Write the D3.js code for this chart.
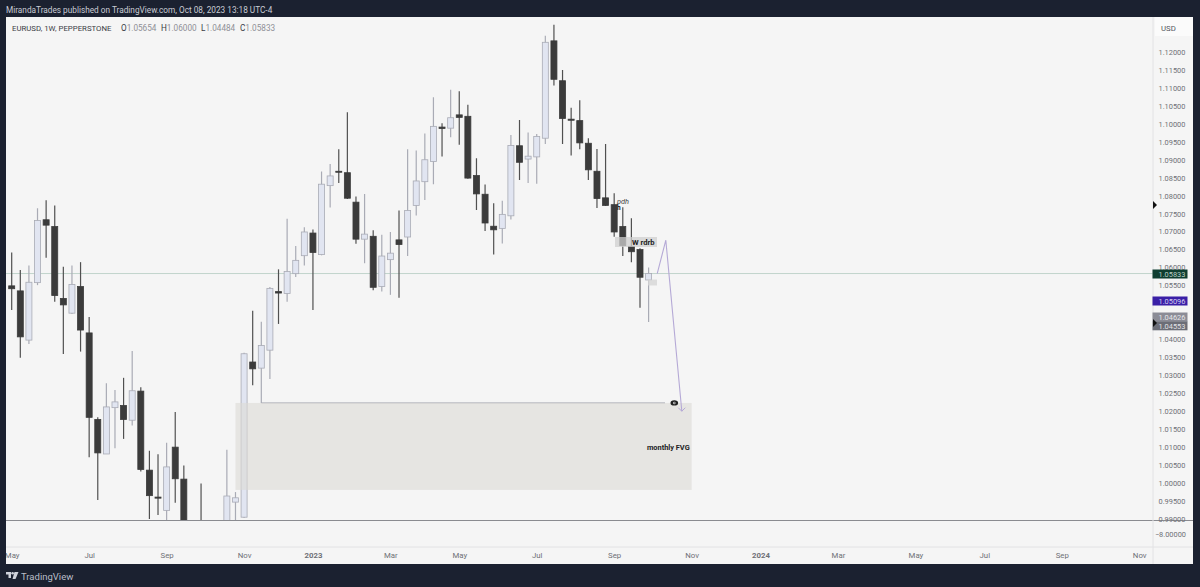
<!DOCTYPE html>
<html>
<head>
<meta charset="utf-8">
<script src="https://cdn.jsdelivr.net/npm/d3@7"></script>
<style>
    html, body { margin: 0; padding: 0; background: #1b2130; overflow: hidden; }
    text { font-family: Roboto, "Noto Sans", sans-serif; }
</style>
</head>
<body>
<div id="visualization"></div>
<script>
// Data
const weeks = [
    "2022-05-02", "2022-05-09", "2022-05-16", "2022-05-23", "2022-05-30", "2022-06-06", "2022-06-13", "2022-06-20", "2022-06-27",
    "2022-07-04", "2022-07-11", "2022-07-18", "2022-07-25", "2022-08-01", "2022-08-08", "2022-08-15", "2022-08-22", "2022-08-29",
    "2022-09-05", "2022-09-12", "2022-09-19", "2022-09-26", "2022-10-03", "2022-10-10", "2022-10-17", "2022-10-24", "2022-10-31",
    "2022-11-07", "2022-11-14", "2022-11-21", "2022-11-28", "2022-12-05", "2022-12-12", "2022-12-19", "2022-12-26",
    "2023-01-02", "2023-01-09", "2023-01-16", "2023-01-23", "2023-01-30", "2023-02-06", "2023-02-13", "2023-02-20", "2023-02-27",
    "2023-03-06", "2023-03-13", "2023-03-20", "2023-03-27", "2023-04-03", "2023-04-10", "2023-04-17", "2023-04-24",
    "2023-05-01", "2023-05-08", "2023-05-15", "2023-05-22", "2023-05-29", "2023-06-05", "2023-06-12", "2023-06-19", "2023-06-26",
    "2023-07-03", "2023-07-10", "2023-07-17", "2023-07-24", "2023-07-31", "2023-08-07", "2023-08-14", "2023-08-21", "2023-08-28",
    "2023-09-04", "2023-09-11", "2023-09-18", "2023-09-25", "2023-10-02"
];
const opens = [
    1.0549, 1.0535, 1.0398, 1.0558, 1.0733, 1.0714, 1.0514, 1.0473, 1.0547,
    1.0418, 1.0177, 1.0081, 1.0210, 1.0216, 1.0175, 1.0256, 1.0036, 0.9961,
    0.9924, 1.0100, 1.0011, 0.9690, 0.9800, 0.9735, 0.9725, 0.9860, 0.9947,
    0.9905, 1.0337, 1.0320, 1.0370, 1.0533, 1.0528, 1.0583, 1.0633,
    1.0696, 1.0636, 1.0828, 1.0868, 1.0864, 1.0782, 1.0679, 1.0687, 1.0547,
    1.0622, 1.0677, 1.0685, 1.0773, 1.0839, 1.0895, 1.0991, 1.0988,
    1.1025, 1.1021, 1.0856, 1.0804, 1.0715, 1.0709, 1.0744, 1.0939, 1.0902,
    1.0908, 1.0960, 1.1231, 1.1120, 1.1013, 1.1009, 1.0946, 1.0868, 1.0794,
    1.0775, 1.0714, 1.0659, 1.0650, 1.05654
];
const closes = [
    1.0541, 1.0407, 1.0559, 1.0731, 1.0718, 1.0522, 1.0496, 1.0553, 1.0426,
    1.0183, 1.0084, 1.0212, 1.0226, 1.0177, 1.0257, 1.0038, 0.9965, 0.9958,
    1.0045, 1.0012, 0.9690, 0.9800, 0.9740, 0.9720, 0.9860, 0.9964, 0.9959,
    1.0360, 1.0318, 1.0383, 1.0542, 1.0529, 1.0589, 1.0620, 1.0699,
    1.0642, 1.0832, 1.0855, 1.0866, 1.0793, 1.0679, 1.0693, 1.0545, 1.0632,
    1.0640, 1.0664, 1.0759, 1.0841, 1.0900, 1.0993, 1.0987, 1.1017,
    1.1018, 1.0849, 1.0805, 1.0724, 1.0705, 1.0748, 1.0940, 1.0893, 1.0910,
    1.0965, 1.1227, 1.1124, 1.1015, 1.1010, 1.0947, 1.0872, 1.0792, 1.0773,
    1.0699, 1.0661, 1.0644, 1.0573, 1.05833
];
const highs = [
    1.0642, 1.0593, 1.0606, 1.0765, 1.0787, 1.0773, 1.0602, 1.0606, 1.0615,
    1.0462, 1.0183, 1.0278, 1.0259, 1.0293, 1.0368, 1.0267, 1.0090, 1.0080,
    1.0112, 1.0198, 1.0049, 0.9850, 0.9999, 0.9810, 0.9875, 1.0093, 0.9975,
    1.0363, 1.0480, 1.0449, 1.0546, 1.0595, 1.0736, 1.0660, 1.0712,
    1.0706, 1.0867, 1.0888, 1.0929, 1.1032, 1.0798, 1.0805, 1.0704, 1.0691,
    1.0699, 1.0759, 1.0929, 1.0926, 1.0973, 1.1074, 1.1002, 1.1095,
    1.1091, 1.1053, 1.0904, 1.0831, 1.0779, 1.0786, 1.0969, 1.1011, 1.0976,
    1.0972, 1.1245, 1.1276, 1.1150, 1.1045, 1.1066, 1.0960, 1.0930, 1.0944,
    1.0807, 1.0768, 1.0737, 1.0654, 1.06000
];
const lows = [
    1.0482, 1.0349, 1.0387, 1.0551, 1.0627, 1.0505, 1.0359, 1.0471, 1.0366,
    1.0072, 0.9953, 1.0081, 1.0097, 1.0123, 1.0160, 1.0032, 0.9900, 0.9911,
    0.9880, 0.9945, 0.9665, 0.9535, 0.9725, 0.9630, 0.9705, 0.9840, 0.9730,
    0.9903, 1.0272, 1.0223, 1.0290, 1.0443, 1.0505, 1.0574, 1.0606,
    1.0482, 1.0634, 1.0767, 1.0835, 1.0791, 1.0666, 1.0612, 1.0537, 1.0533,
    1.0524, 1.0516, 1.0632, 1.0745, 1.0788, 1.0832, 1.0909, 1.0963,
    1.0942, 1.0847, 1.0760, 1.0702, 1.0636, 1.0667, 1.0734, 1.0844, 1.0835,
    1.0833, 1.0944, 1.1107, 1.0944, 1.0912, 1.0929, 1.0844, 1.0766, 1.0771,
    1.0686, 1.0632, 1.0615, 1.0488, 1.04484
];

// 1.05000 and 1.04500 sit behind the price tags in the picture
const priceTicks = [
    1.12, 1.115, 1.11, 1.105, 1.10, 1.095, 1.09, 1.085, 1.08, 1.075, 1.07, 1.065, 1.06, 1.055,
    1.04, 1.035, 1.03, 1.025, 1.02, 1.015, 1.01, 1.005, 1.00, 0.995, 0.99
];
const timeTicks = [
    ["2022-05-02", "May"], ["2022-07-04", "Jul"], ["2022-09-05", "Sep"], ["2022-11-07", "Nov"],
    ["2023-01-02", "2023"], ["2023-03-06", "Mar"], ["2023-05-01", "May"], ["2023-07-03", "Jul"],
    ["2023-09-04", "Sep"], ["2023-11-06", "Nov"], ["2024-01-01", "2024"], ["2024-03-04", "Mar"],
    ["2024-05-06", "May"], ["2024-07-01", "Jul"], ["2024-09-02", "Sep"], ["2024-11-04", "Nov"]
];
const legendParts = [["O", "1.05654", 121], ["H", "1.06000", 161], ["L", "1.04484", 201], ["C", "1.05833", 240]];
const priceTags = [
    { value: "1.05833", y: 274, fill: "#0f3d30", color: "#b9cfc7" },
    { value: "1.05096", y: 301, fill: "#3a1fa6", color: "#d5cff2" },
    { value: "1.04626", y: 317, fill: "#8b8c96", color: "#e6e6ea" },
    { value: "1.04553", y: 325.8, fill: "#6c6e77", color: "#e2e2e6" }
];
const lastClose = 1.05833;
const fvgTop = 1.0223, fvgBottom = 0.9981;
const plannedPath = [["2023-10-09", 1.0583], ["2023-10-16", 1.0676], ["2023-10-29", 1.0200]];

// Layout
const width = 1200, height = 587;
const frame = { left: 6, right: 1193, top: 17, bottom: 564 };
const paneBottom = 520.5, plotBottom = 547, axisLeft = 1153;

const parseDate = d3.utcParse("%Y-%m-%d");

const svg = d3.select("#visualization").append("svg")
    .attr("width", width)
    .attr("height", height)
    .style("display", "block");

svg.append("rect").attr("width", width).attr("height", height).attr("fill", "#1b2130");
svg.append("rect")
    .attr("x", frame.left).attr("y", frame.top)
    .attr("width", frame.right - frame.left).attr("height", frame.bottom - frame.top)
    .attr("fill", "#f5f5f5");

const defs = svg.append("defs");
defs.append("clipPath").attr("id", "pane").append("rect")
    .attr("x", frame.left).attr("y", frame.top)
    .attr("width", axisLeft - frame.left).attr("height", paneBottom - frame.top);
defs.append("clipPath").attr("id", "frame").append("rect")
    .attr("x", frame.left).attr("y", frame.top)
    .attr("width", frame.right - frame.left).attr("height", frame.bottom - frame.top);

// Scales
const x = d3.scaleUtc()
    .domain([parseDate("2022-05-02"), parseDate("2024-11-04")])
    .range([11.7, 1139.2]);
const y = d3.scaleLinear()
    .domain([0.99, 1.12])
    .range([519, 52]);

const candles = weeks.map((w, i) => ({
    date: parseDate(w), open: opens[i], close: closes[i], high: highs[i], low: lows[i]
}));

const pane = svg.append("g").attr("clip-path", "url(#pane)");

// Current price line
pane.append("line")
    .attr("x1", frame.left).attr("x2", axisLeft)
    .attr("y1", y(lastClose)).attr("y2", y(lastClose))
    .attr("stroke", "#c2d4cc").attr("stroke-width", 1);

// Low of the week of Nov 21 carried to the right
pane.append("line")
    .attr("x1", x(parseDate("2022-11-21"))).attr("x2", 665)
    .attr("y1", y(fvgTop)).attr("y2", y(fvgTop))
    .attr("stroke", "#a4a6b0").attr("stroke-width", 1);

// Candles
const isUp = d => d.close >= d.open;
const candle = pane.selectAll(".candle").data(candles).enter().append("g").attr("class", "candle");

candle.append("line")
    .attr("x1", d => x(d.date)).attr("x2", d => x(d.date))
    .attr("y1", d => y(d.high)).attr("y2", d => y(d.low))
    .attr("stroke", d => isUp(d) ? "#a9abb5" : "#505050")
    .attr("stroke-width", 1.2);

candle.append("rect")
    .attr("x", d => x(d.date) - 3)
    .attr("width", 6)
    .attr("y", d => y(Math.max(d.open, d.close)))
    .attr("height", d => Math.max(Math.abs(y(d.open) - y(d.close)), 1))
    .attr("fill", d => isUp(d) ? "#e1e5f1" : "#3b3b3b")
    .attr("stroke", d => isUp(d) ? "#a9abb5" : "#3b3b3b")
    .attr("stroke-width", 0.8);

// monthly FVG box
pane.append("rect")
    .attr("x", x(parseDate("2022-10-31")))
    .attr("width", x(parseDate("2023-11-06")) - x(parseDate("2022-10-31")))
    .attr("y", y(fvgTop))
    .attr("height", y(fvgBottom) - y(fvgTop))
    .attr("fill", "#dcdbd5")
    .attr("fill-opacity", 0.6);
pane.append("text")
    .attr("x", 668.3).attr("y", 449.5)
    .attr("text-anchor", "middle")
    .attr("font-size", 7.4).attr("font-weight", 700)
    .attr("fill", "#222").text("monthly FVG");

// W rdrb box and the small one by the last candle
pane.append("rect").attr("x", 615).attr("y", 237).attr("width", 42).attr("height", 10)
    .attr("fill", "#cfcfcf").attr("fill-opacity", 0.75);
pane.append("rect").attr("x", 648).attr("y", 279.5).attr("width", 9).attr("height", 6)
    .attr("fill", "#d6d6d6").attr("fill-opacity", 0.8);
pane.append("text").attr("x", 632).attr("y", 244.5)
    .attr("font-size", 7.6).attr("font-weight", 700).attr("fill", "#222").text("W rdrb");
pane.append("text").attr("x", 617).attr("y", 204)
    .attr("font-size", 7.4).attr("font-style", "italic").attr("fill", "#444").text("pdh");
pane.append("text").attr("x", 617).attr("y", 210)
    .attr("font-size", 6.5).attr("font-weight", 700).attr("fill", "#222").text("h");

// Planned move and arrow head
const pathLine = d3.line().x(d => x(parseDate(d[0]))).y(d => y(d[1]));
pane.append("path")
    .attr("d", pathLine(plannedPath))
    .attr("fill", "none").attr("stroke", "#b5a9d6").attr("stroke-width", 1.1);
const tip = plannedPath[2];
pane.append("path")
    .attr("transform", `translate(${x(parseDate(tip[0]))},${y(tip[1])})`)
    .attr("d", "M-3.5,-3.5L0,0L3.5,-3.5")
    .attr("fill", "none").attr("stroke", "#b5a9d6").attr("stroke-width", 1);

// Eye icon on the line end
const eye = pane.append("g").attr("transform", `translate(674.3,${y(fvgTop)})`);
eye.append("ellipse").attr("rx", 3.8).attr("ry", 2.6).attr("fill", "#222");
eye.append("circle").attr("r", 1.2).attr("fill", "#e8e8e8");
eye.append("circle").attr("r", 0.6).attr("fill", "#222");

// Lower pane and plot borders
svg.append("line").attr("x1", frame.left).attr("x2", frame.right)
    .attr("y1", paneBottom).attr("y2", paneBottom)
    .attr("stroke", "#8a8b90").attr("stroke-width", 1);
svg.append("line").attr("x1", frame.left).attr("x2", frame.right)
    .attr("y1", plotBottom).attr("y2", plotBottom)
    .attr("stroke", "#e2e2e4").attr("stroke-width", 1);
svg.append("line").attr("x1", axisLeft).attr("x2", axisLeft)
    .attr("y1", frame.top).attr("y2", frame.bottom)
    .attr("stroke", "#e2e2e4").attr("stroke-width", 1);

// Axes
const yAxis = svg.append("g")
    .attr("transform", `translate(${axisLeft},0)`)
    .call(d3.axisRight(y).tickValues(priceTicks).tickSize(0).tickPadding(5.5).tickFormat(d3.format(".5f")));
yAxis.select(".domain").remove();
yAxis.selectAll("text").attr("font-size", 7.4).attr("fill", "#6e7076")
    .style("font-family", "Roboto, sans-serif");

const xAxis = svg.append("g")
    .attr("clip-path", "url(#frame)")
    .append("g")
    .attr("transform", `translate(0,${plotBottom})`)
    .call(d3.axisBottom(x)
        .tickValues(timeTicks.map(d => parseDate(d[0])))
        .tickSize(0).tickPadding(5)
        .tickFormat((d, i) => timeTicks[i][1]));
xAxis.select(".domain").remove();
xAxis.selectAll("text").attr("font-size", 7.8).attr("fill", "#6e7076")
    .style("font-family", "Roboto, sans-serif")
    .attr("font-weight", (d, i) => timeTicks[i][1].length === 4 ? 700 : 400);

svg.append("text")
    .attr("x", 1186).attr("y", 537)
    .attr("text-anchor", "end")
    .attr("font-size", 7.4).attr("fill", "#6e7076").text("\u22128.00000");

// USD box at the top of the price axis
svg.append("rect")
    .attr("x", 1155).attr("y", frame.top).attr("width", frame.right - 1155).attr("height", 19)
    .attr("fill", "#fbfbfb");
svg.append("text")
    .attr("x", 1161).attr("y", 30.5)
    .attr("font-size", 7.8).attr("fill", "#55575e").text("USD");

// Price tags on the axis
const tag = svg.selectAll(".tag").data(priceTags).enter().append("g").attr("class", "tag");
tag.append("rect")
    .attr("x", axisLeft - 0.5).attr("width", 35)
    .attr("y", d => d.y - 4.5).attr("height", 9)
    .attr("fill", d => d.fill);
tag.append("text")
    .attr("x", axisLeft + 5.5).attr("y", d => d.y + 2.7)
    .attr("font-size", 7.4)
    .attr("fill", d => d.color)
    .text(d => d.value);

// Black markers on the axis edge
svg.selectAll(".marker").data([205, 323]).enter().append("path")
    .attr("class", "marker")
    .attr("transform", d => `translate(${axisLeft},${d})`)
    .attr("d", "M0,-4L4,0L0,4Z")
    .attr("fill", "#111");

// Header
svg.append("text")
    .attr("x", 6).attr("y", 13)
    .attr("font-size", 8.25).attr("fill", "#c9ccd4")
    .text("MirandaTrades published on TradingView.com, Oct 08, 2023 13:18 UTC-4");

// Legend
svg.append("text").attr("x", 12).attr("y", 30.5).attr("font-size", 7.8)
    .attr("fill", "#3a3c44").text("EURUSD, 1W, PEPPERSTONE");
legendParts.forEach(p => {
    const item = svg.append("text").attr("x", p[2]).attr("y", 30.5).attr("font-size", 8.2);
    item.append("tspan").attr("fill", "#3a3c44").text(p[0]);
    item.append("tspan").attr("fill", "#8f9097").text(p[1]);
});

// Footer logo
const logo = svg.append("g").attr("transform", "translate(6,572)").attr("fill", "#cfd2da");
logo.append("path").attr("d", "M0,0H5V6H2.5V2.5H0Z");
logo.append("circle").attr("cx", 6.6).attr("cy", 1.3).attr("r", 1.3);
logo.append("path").attr("d", "M8.5,0H12.5L9.5,7H6.5Z");
svg.append("text")
    .attr("x", 21).attr("y", 579.5)
    .attr("font-size", 9.5).attr("fill", "#b9bdc7").text("TradingView");
</script>
</body>
</html>
